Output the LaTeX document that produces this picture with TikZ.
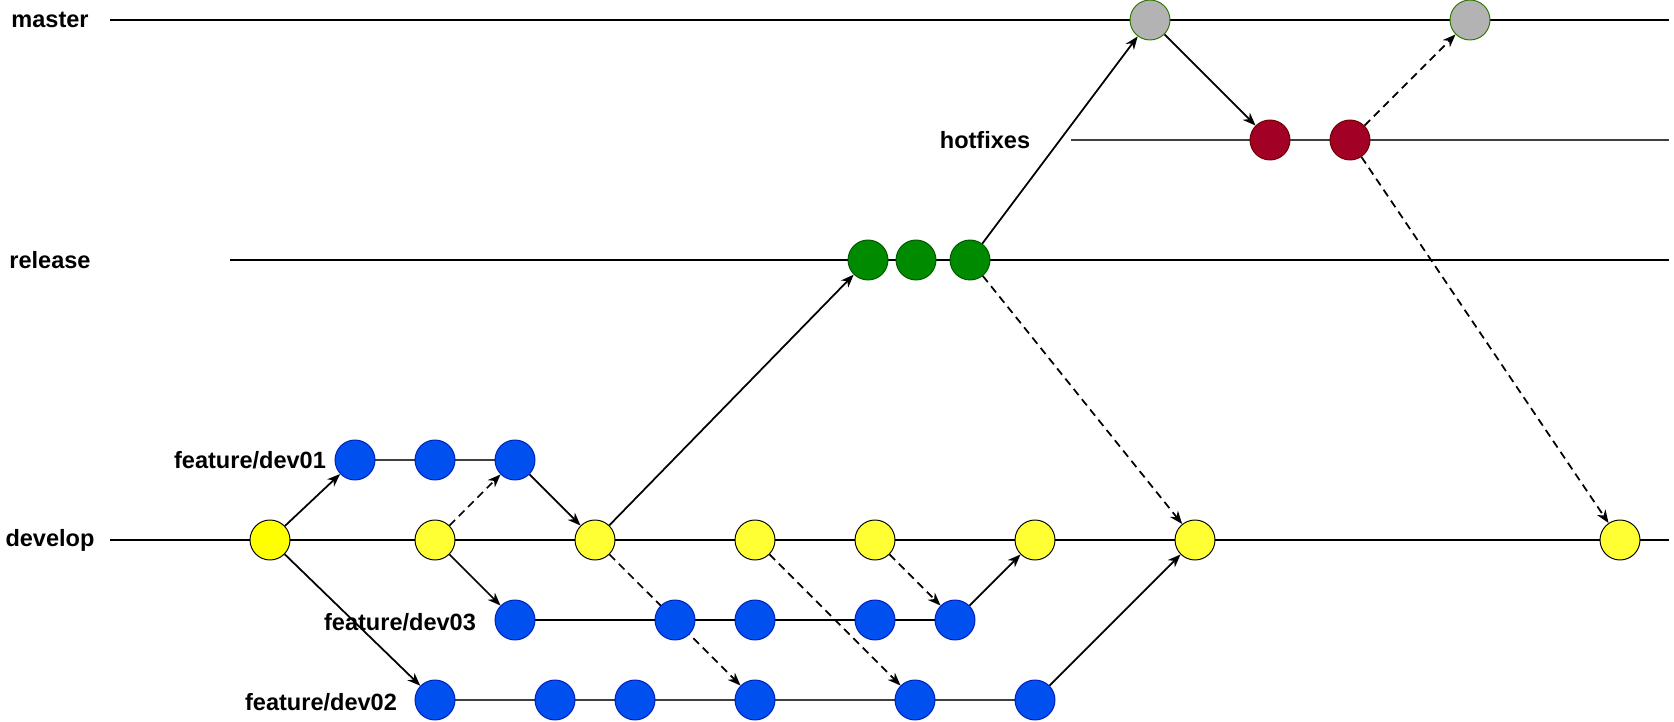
\documentclass[tikz,border=0pt]{standalone}
\usepackage{fontspec}
\setmainfont{Liberation Sans}
\usetikzlibrary{arrows.meta, backgrounds}
\definecolor{devfirst}{HTML}{FFFF00}
\definecolor{devfill}{HTML}{FFFF33}
\definecolor{featfill}{HTML}{0050EF}
\definecolor{featline}{HTML}{001DBC}
\definecolor{relfill}{HTML}{008A00}
\definecolor{relline}{HTML}{005700}
\definecolor{fixfill}{HTML}{A20025}
\definecolor{fixline}{HTML}{6F0000}
\definecolor{mastfill}{HTML}{B3B3B3}
\definecolor{mastline}{HTML}{2D7600}

\begin{document}
\begin{tikzpicture}[x=0.02cm, y=-0.02cm,
    commit/.style={circle, draw, line width=0.55pt, minimum size=0.8cm, inner sep=0pt},
    devc/.style={commit, fill=devfill, draw=black},
    featc/.style={commit, fill=featfill, draw=featline},
    relc/.style={commit, fill=relfill, draw=relline},
    fixc/.style={commit, fill=fixfill, draw=fixline},
    mastc/.style={commit, fill=mastfill, draw=mastline},
    lbl/.style={font=\fontsize{13.4}{16}\selectfont\bfseries, inner sep=0pt},
    lane/.style={line width=0.6pt},
    branch/.style={line width=1.3pt, draw=black!75},
    merge/.style={-{Stealth[length=2.6mm, width=2mm, inset=0.8mm]}, line width=1pt},
    pick/.style={merge, dash pattern=on 4.5pt off 3pt}]
    \useasboundingbox (0,0) rectangle (1674,722);

    % Branch labels
    \node[lbl] (lmaster) at (50,20) {master};
    \node[lbl] (lhotfix) at (985,140) {hotfixes};
    \node[lbl] (lrelease) at (50,260) {release};
    \node[lbl] (ldevelop) at (50,540) {develop};
    \node[lbl] (ldev01) at (250,460) {feature/dev01};
    \node[lbl] (ldev03) at (400,622) {feature/dev03};
    \node[lbl] (ldev02) at (321,702) {feature/dev02};

    % Lane ends
    \coordinate (mS) at (110,20);   \coordinate (mE) at (1669,20);
    \coordinate (hS) at (1071,140); \coordinate (hE) at (1669,140);
    \coordinate (rS) at (230,260);  \coordinate (rE) at (1669,260);
    \coordinate (dS) at (110,540);  \coordinate (dE) at (1669,540);

    % Commits
    \node[commit, fill=devfirst] (d1) at (270,540) {};
    \foreach \n/\x in {2/435, 3/595, 4/755, 5/875, 6/1035, 7/1195, 8/1620}
        \node[devc] (d\n) at (\x,540) {};
    \foreach \n/\x in {1/355, 2/435, 3/515}
        \node[featc] (a\n) at (\x,460) {};
    \foreach \n/\x in {1/515, 2/675, 3/755, 4/875, 5/955}
        \node[featc] (c\n) at (\x,620) {};
    \foreach \n/\x in {1/435, 2/555, 3/635, 4/755, 5/915, 6/1035}
        \node[featc] (b\n) at (\x,700) {};
    \foreach \n/\x in {1/868, 2/916, 3/970}
        \node[relc] (r\n) at (\x,260) {};
    \node[mastc] (m1) at (1150,20) {};
    \node[mastc] (m2) at (1470,20) {};
    \node[fixc] (h1) at (1270,140) {};
    \node[fixc] (h2) at (1350,140) {};

    \begin{scope}[on background layer]
    % Lanes
    \draw[lane] (mS) -- (mE);
    \draw[branch] (hS) -- (hE);
    \draw[lane] (rS) -- (rE);
    \draw[lane] (dS) -- (dE);
    \draw[branch] (a1) -- (a3);
    \draw[lane] (c1) -- (c5);
    \draw[branch] (b1) -- (b6);

    % Merges
    \draw[merge] (d1) -- (a1);
    \draw[merge] (d1) -- (b1);
    \draw[pick] (d2) -- (a3);
    \draw[merge] (d2) -- (c1);
    \draw[merge] (a3) -- (d3);
    \draw[merge] (d3) -- (r1);
    \draw[pick] (d3) -- (b4);
    \draw[pick] (d4) -- (b5);
    \draw[pick] (d5) -- (c5);
    \draw[merge] (c5) -- (d6);
    \draw[merge] (b6) -- (d7);
    \draw[pick] (r3) -- (d7);
    \draw[merge] (r3) -- (m1);
    \draw[merge] (m1) -- (h1);
    \draw[pick] (h2) -- (m2);
    \draw[pick] (h2) -- (d8);
    \end{scope}
\end{tikzpicture}
\end{document}
